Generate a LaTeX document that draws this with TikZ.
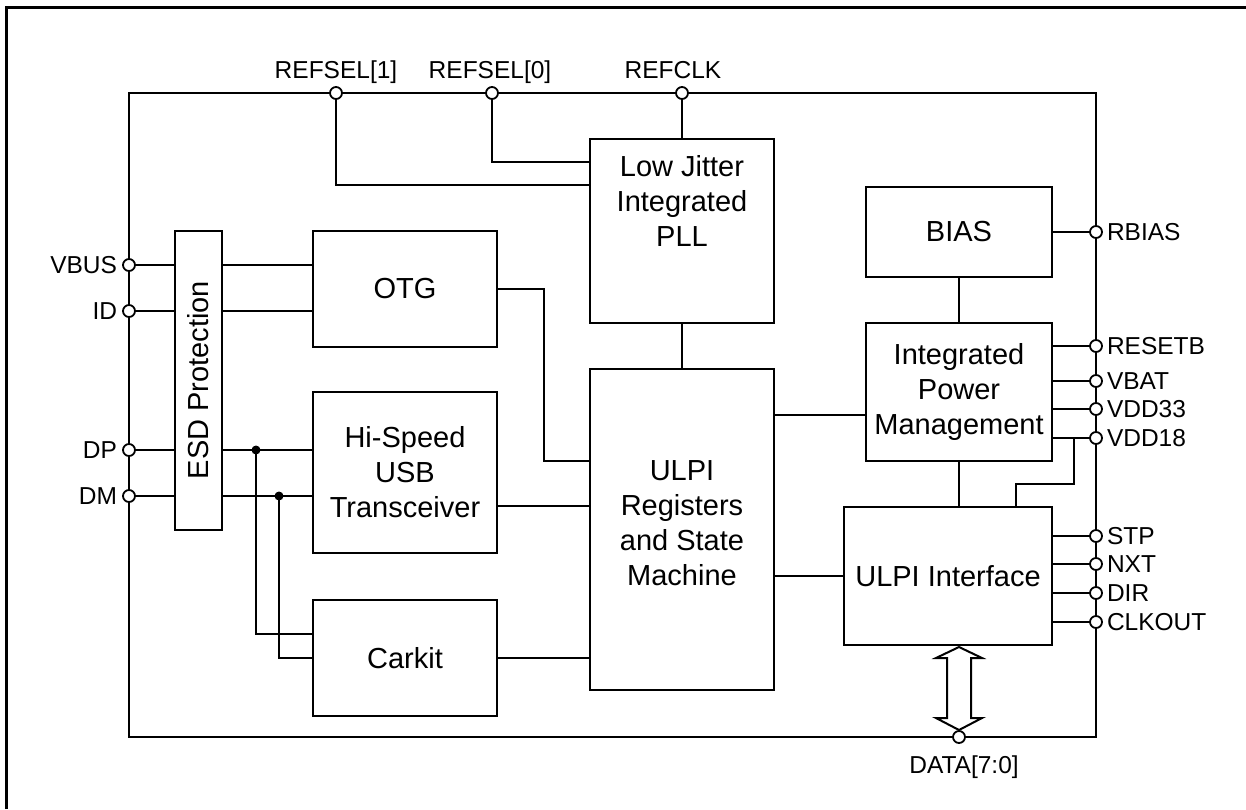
\documentclass[tikz,border=0pt]{standalone}
\usepackage{fontspec}
\setmainfont{Liberation Sans}
\begin{document}
\begin{tikzpicture}[x=1pt,y=-1pt,
  line width=2pt,
  blk/.style={draw,line width=2pt,inner sep=0pt,align=center,font=\fontsize{29}{35}\selectfont},
  txt/.style={inner sep=0pt,align=center,font=\fontsize{29}{35}\selectfont},
  pin/.style={circle,draw,fill=white,line width=1.8pt,minimum size=12pt,inner sep=0pt},
  plab/.style={inner sep=0pt,font=\fontsize{24.5}{29}\selectfont},
  jdot/.style={circle,fill=black,minimum size=9pt,inner sep=0pt}]
\useasboundingbox (0,0) rectangle (1246,809);
\fill[white] (0,0) rectangle (1246,809);
\draw[line width=3pt] (6,809) -- (6,7) -- (1246,7);

% chip outline
\node[draw,line width=2pt,minimum width=967pt,minimum height=644pt,inner sep=0pt] (chip) at (612.5,415) {};

% blocks
\node[blk,minimum width=47pt,minimum height=299pt] (esd) at (198.5,380.5) {};
\node[txt,rotate=90] (esdt) at (198.5,380) {ESD Protection};
\node[blk,minimum width=184pt,minimum height=116pt] (otg) at (405,289) {OTG};
\node[blk,minimum width=184pt,minimum height=161pt] (hs) at (405,472.5) {Hi-Speed\\USB\\Transceiver};
\node[blk,minimum width=184pt,minimum height=116pt] (car) at (405,658) {Carkit};
\node[blk,minimum width=184pt,minimum height=184pt] (pll) at (682,231) {};
\node[txt] (pllt) at (682,201) {Low Jitter\\Integrated\\PLL};
\node[blk,minimum width=184pt,minimum height=321pt] (regs) at (682,529.5) {};
\node[txt] (regst) at (682,523) {ULPI\\Registers\\and State\\Machine};
\node[blk,minimum width=186pt,minimum height=90pt] (bias) at (959,232) {BIAS};
\node[blk,minimum width=186pt,minimum height=138pt] (pwr) at (959,392) {Integrated\\Power\\Management};
\node[blk,minimum width=208pt,minimum height=138pt] (ulpi) at (948,576) {ULPI Interface};

% pins (coordinates)
\coordinate (r1) at (336,93);
\coordinate (r0) at (492,93);
\coordinate (rc) at (682,93);
\coordinate (vbus) at (129,265);
\coordinate (id) at (129,311);
\coordinate (dp) at (129,450);
\coordinate (dm) at (129,496);
\coordinate (rbias) at (1096,232);
\coordinate (resetb) at (1096,346);
\coordinate (vbat) at (1096,381);
\coordinate (vdd33) at (1096,409);
\coordinate (vdd18) at (1096,438);
\coordinate (stp) at (1096,536);
\coordinate (nxt) at (1096,564);
\coordinate (dir) at (1096,593);
\coordinate (clkout) at (1096,622);
\coordinate (data) at (959,737);
\coordinate (jdp) at (256,450);
\coordinate (jdm) at (279,496);
\coordinate (jv) at (1074,438);

% connectors
\draw (r1) |- ([yshift=46pt]pll.west);
\draw (r0) |- ([yshift=69pt]pll.west);
\draw (rc) -- (pll.north);
\draw (vbus) -- (vbus -| esd.west);
\draw (vbus -| esd.east) -- (vbus -| otg.west);
\draw (id) -- (id -| esd.west);
\draw (id -| esd.east) -- (id -| otg.west);
\draw (dp) -- (dp -| esd.west);
\draw (dp -| esd.east) -- (dp -| hs.west);
\draw (dm) -- (dm -| esd.west);
\draw (dm -| esd.east) -- (dm -| hs.west);
\draw (jdp) |- ([yshift=24pt]car.west);
\draw (jdm) |- (car.west);
\draw (otg.east) -- ++(46,0) |- ([yshift=68.5pt]regs.west);
\draw ([yshift=-33.5pt]hs.east) -- ([yshift=-33.5pt]hs.east -| regs.west);
\draw (car.east) -- (car.east -| regs.west);
\draw (pll.south) -- (regs.north);
\draw ([yshift=-23pt]pwr.west) -- ([yshift=-23pt]pwr.west -| regs.east);
\draw (ulpi.west) -- (ulpi.west -| regs.east);
\draw (bias.south) -- (pwr.north);
\draw (pwr.south) -- (pwr.south |- ulpi.north);
\draw (bias.east) -- (rbias);
\draw (resetb -| pwr.east) -- (resetb);
\draw (vbat -| pwr.east) -- (vbat);
\draw (vdd33 -| pwr.east) -- (vdd33);
\draw (vdd18 -| pwr.east) -- (vdd18);
\draw (jv) -- ++(0,46) -| ([xshift=68pt]ulpi.north);
\draw (stp -| ulpi.east) -- (stp);
\draw (nxt -| ulpi.east) -- (nxt);
\draw (dir -| ulpi.east) -- (dir);
\draw (clkout -| ulpi.east) -- (clkout);

% data bus arrow
\coordinate (dt) at (959,647);
\draw[fill=white,line width=2pt,line join=miter] (dt) -- ++(23,11) -- ++(-11,0) -- ++(0,60) -- ++(11,0) -- ++(-23,12) -- ++(-23,-12) -- ++(11,0) -- ++(0,-60) -- ++(-11,0) -- cycle;

% junction dots
\node[jdot] (djdp) at (jdp) {};
\node[jdot] (djdm) at (jdm) {};

% pin circles
\foreach \p in {r1,r0,rc,vbus,id,dp,dm,rbias,resetb,vbat,vdd33,vdd18,stp,nxt,dir,clkout,data}
  \node[pin] (c\p) at (\p) {};

% pin labels
\node[plab,anchor=base] (lr1) at (336,78) {REFSEL[1]};
\node[plab,anchor=base] (lr0) at (490,78) {REFSEL[0]};
\node[plab,anchor=base] (lrc) at (673,78) {REFCLK};
\node[plab,anchor=base east] (lvbus) at (118,273.5) {VBUS};
\node[plab,anchor=base east] (lid) at (118,319.5) {ID};
\node[plab,anchor=base east] (ldp) at (118,458.5) {DP};
\node[plab,anchor=base east] (ldm) at (118,504.5) {DM};
\node[plab,anchor=base west] (lrbias) at (1106,240.5) {RBIAS};
\node[plab,anchor=base west] (lresetb) at (1106,354.5) {RESETB};
\node[plab,anchor=base west] (lvbat) at (1106,389.5) {VBAT};
\node[plab,anchor=base west] (lvdd33) at (1106,417.5) {VDD33};
\node[plab,anchor=base west] (lvdd18) at (1106,446.5) {VDD18};
\node[plab,anchor=base west] (lstp) at (1106,544.5) {STP};
\node[plab,anchor=base west] (lnxt) at (1106,572.5) {NXT};
\node[plab,anchor=base west] (ldir) at (1106,601.5) {DIR};
\node[plab,anchor=base west] (lclkout) at (1106,630.5) {CLKOUT};
\node[plab,anchor=base] (ldata) at (964,773) {DATA[7:0]};
\end{tikzpicture}
\end{document}
